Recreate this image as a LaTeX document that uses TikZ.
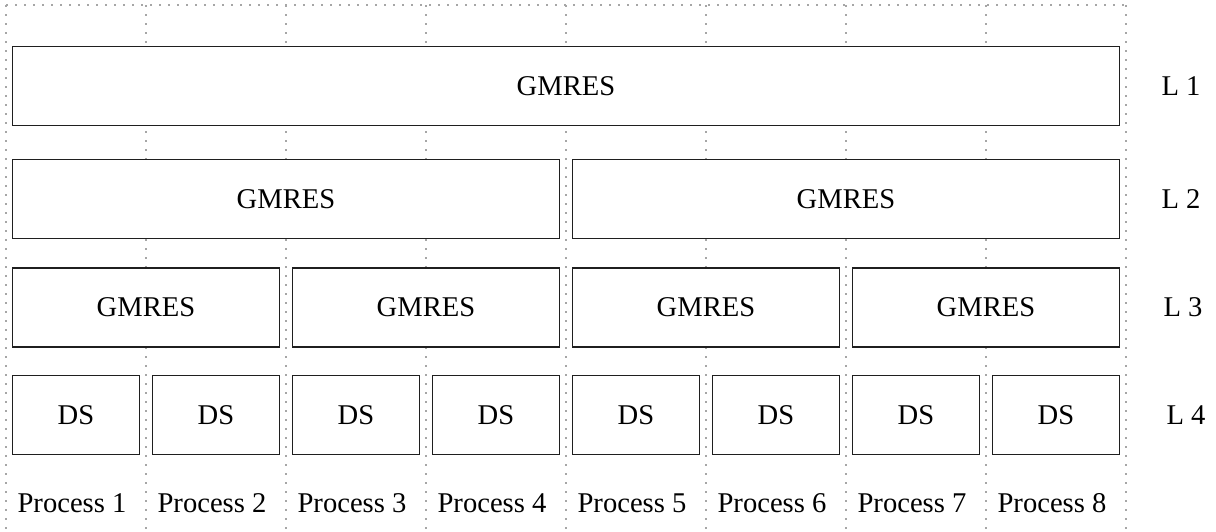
\documentclass[tikz,border=0pt]{standalone}
\usepackage{fontspec}
\setmainfont{Liberation Serif}
\tikzset{
  gridline/.style={gray!70,line width=1.7pt,dash pattern=on 1.7pt off 7.3pt},
  solver/.style={draw=black!88,line width=1.7pt,fill=white,inner sep=0pt,minimum height=79pt},
  txt/.style={font=\fontsize{28.6}{34}\selectfont}
}
\begin{document}
\begin{tikzpicture}[x=1pt,y=-1pt]
			\useasboundingbox (0,0) rectangle (1216,531);
			\draw[gridline] (6,5) -- (1126,5);
			\foreach \k in {0,...,8}
			\draw[gridline] (6+140*\k,5) -- (6+140*\k,531);
			\foreach \lev/\n/\y/\name in {1/1/86/GMRES,2/2/199/GMRES,3/4/307.5/GMRES,4/8/415/DS}
			{
				\pgfmathsetmacro\w{1120/\n-13}
				\foreach \i in {1,...,\n}
				\node[solver,txt,minimum width=\w pt] (b\lev-\i) at ({6+(\i-0.5)*1120/\n},\y) {\name};
			}
			\foreach \lev/\x/\y in {1/1181/86,2/1181/199,3/1183/307.5,4/1186/415}
			\node[txt] (lev\lev) at (\x,\y) {L \lev};
			\foreach \i in {1,...,8}
			\node[txt] (p\i) at ({140*\i-68},503) {Process \i};
		\end{tikzpicture}
\end{document}
